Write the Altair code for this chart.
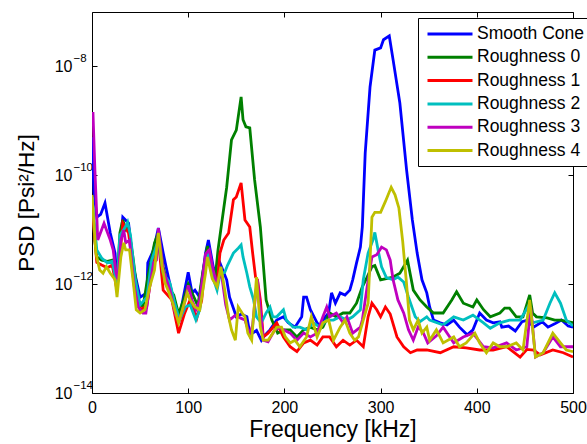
import math
import altair as alt
import pandas as pd

series_names = ["Smooth Cone", "Roughness 0", "Roughness 1", "Roughness 2", "Roughness 3", "Roughness 4"]
series_colors = ["#0000FF", "#008000", "#FF0000", "#00BFBF", "#BF00BF", "#BFBF00"]

# (frequency kHz, log10 PSD) pairs
smooth_cone = [(0,-9.3),(2,-10.3),(5,-10.77),(9,-10.72),(13.5,-10.51),(19,-11.06),(24,-11.43),(26,-11.98),(32,-10.77),(38,-10.88),
    (43,-11.68),(50,-12.24),(57,-12.16),(58,-11.61),(64,-11.37),(69,-10.97),(74,-11.43),(77,-11.68),(83,-12.16),(90,-12.66),
    (93,-12.42),(100,-11.78),(104,-12.16),(107,-12.11),(112,-12.24),(118,-11.43),(121,-11.19),(126,-11.68),(130,-11.87),(133,-11.61),
    (140,-11.92),(143,-12.24),(150,-12.60),(155,-12.55),(161,-12.60),(164,-12.90),(167,-12.90),(171,-12.85),(176,-13.03),(178,-12.97),
    (185,-12.84),(192,-12.66),(199,-12.60),(204,-12.71),(211,-12.79),(218,-12.60),(220,-12.24),(223,-12.24),(227,-12.47),(234,-12.71),
    (237,-12.79),(240,-12.66),(246,-12.53),(249,-12.16),(253,-12.35),(258,-12.16),(263,-12.20),(268,-12.11),(271,-11.92),(275,-11.61),
    (279,-11.32),(281,-10.95),(284,-9.59),(289,-8.38),(294,-7.70),(300,-7.66),(303,-7.51),(309,-7.44),(313,-7.88),(320,-8.67),
    (327,-9.90),(333,-10.82),(338,-11.43),(343,-11.92),(348,-12.16),(351,-12.42),(355,-12.66),(362,-12.71),(369,-12.75),(376,-12.66),
    (382,-12.79),(390,-12.93),(396,-12.84),(403,-12.53),(410,-12.66),(417,-12.71),(424,-12.69),(426,-12.79),(433,-12.77),(440,-12.86),
    (447,-12.69),(453,-12.66),(459,-12.79),(468,-12.69),(474,-12.79),(481,-12.73),(488,-12.66),(495,-12.77),(500,-12.79)]

roughness_0 = [(0,-10.45),(3,-11.2),(5,-11.50),(10,-11.56),(16,-11.58),(21,-11.56),(24,-11.68),(26,-11.98),(29,-11.06),(32,-10.82),
    (35,-11.0),(38,-10.95),(43,-11.56),(48,-12.29),(53,-12.42),(58,-11.87),(65,-11.24),(69,-11.06),(74,-11.68),(79,-12.05),
    (85,-12.2),(90,-12.55),(95,-12.3),(100,-12.0),(105,-12.2),(110,-12.4),(115,-11.8),(120,-11.3),(125,-11.7),(128,-11.9),
    (131,-11.37),(137,-10.60),(140,-10.22),(145,-9.35),(150,-9.17),(155,-8.56),(157,-8.98),(160,-9.11),(164,-9.13),(169,-10.08),
    (175,-10.95),(181,-12.29),(187,-12.66),(193,-12.90),(200,-12.84),(206,-12.84),(213,-12.97),(220,-12.84),(227,-12.79),(234,-12.84),
    (240,-12.79),(247,-12.53),(254,-12.60),(261,-12.53),(268,-12.53),(275,-12.35),(281,-12.05),(286,-11.87),(291,-11.68),(294,-11.66),
    (300,-11.92),(306,-11.90),(313,-11.87),(320,-11.80),(328,-11.56),(334,-12.11),(341,-12.29),(348,-12.42),(355,-12.53),(365,-12.53),
    (374,-12.29),(379,-12.14),(386,-12.35),(396,-12.42),(400,-12.29),(407,-12.47),(414,-12.60),(424,-12.53),(429,-12.44),(434,-12.44),
    (441,-12.60),(448,-12.60),(455,-12.2),(458,-12.53),(462,-12.60),(473,-12.62),(481,-12.66),(487,-12.66),(500,-12.71)]

roughness_1 = [(0,-10.55),(5,-11.60),(10,-11.65),(16,-11.70),(21,-11.65),(26,-12.11),(32,-10.88),(38,-11.06),(43,-11.74),(50,-12.47),
    (57,-12.40),(64,-11.56),(69,-11.19),(74,-12.11),(83,-12.29),(90,-12.90),(96,-12.55),(102,-12.29),(109,-12.62),(114,-12.3),
    (118,-11.56),(121,-11.37),(126,-11.83),(130,-12.02),(133,-11.43),(137,-11.19),(142,-11.06),(147,-10.45),(150,-10.40),(155,-10.14),
    (159,-10.82),(164,-10.95),(167,-11.43),(170,-11.87),(172,-11.92),(175,-12.29),(178,-12.97),(183,-12.90),(192,-12.71),(199,-12.97),
    (206,-13.15),(213,-13.24),(220,-13.08),(227,-13.03),(234,-13.12),(240,-12.97),(247,-12.97),(254,-13.15),(261,-13.03),(268,-13.12),
    (275,-13.03),(282,-13.15),(287,-12.60),(291,-12.35),(296,-12.47),(300,-12.60),(305,-12.42),(310,-12.55),(317,-12.97),(324,-13.15),
    (331,-13.26),(338,-13.21),(348,-13.21),(362,-13.26),(376,-13.15),(389,-13.17),(403,-13.21),(417,-13.21),(431,-13.15),(445,-13.34),
    (452,-13.2),(459,-13.21),(466,-13.30),(479,-13.21),(490,-13.26),(500,-13.34)]

roughness_2 = [(0,-10.40),(5,-11.37),(10,-11.52),(16,-11.61),(21,-11.58),(26,-12.02),(29,-11.10),(34,-10.97),(37,-10.86),(40,-11.10),
    (45,-11.92),(50,-12.38),(57,-12.24),(62,-11.56),(69,-11.19),(74,-11.80),(81,-11.98),(86,-12.35),(91,-12.66),(97,-12.42),
    (102,-12.38),(108,-12.66),(112,-12.47),(117,-11.65),(121,-11.45),(126,-11.9),(130,-12.11),(133,-11.83),(138,-11.78),(141,-11.65),
    (147,-11.43),(152,-11.34),(155,-11.28),(157,-11.50),(161,-11.80),(164,-12.05),(168,-12.29),(171,-12.60),(176,-12.71),(181,-12.53),
    (185,-12.42),(188,-12.60),(192,-12.60),(199,-12.47),(202,-12.66),(209,-12.79),(216,-12.79),(223,-12.84),(230,-12.71),(237,-12.79),
    (244,-12.66),(251,-12.66),(258,-12.60),(265,-12.66),(271,-12.60),(279,-12.47),(282,-11.92),(287,-11.43),(292,-11.19),(294,-11.05),
    (298,-11.43),(301,-11.68),(306,-11.88),(313,-11.92),(318,-11.87),(324,-11.96),(329,-12.24),(336,-12.60),(341,-12.69),(348,-12.60),
    (351,-12.66),(365,-12.75),(376,-12.60),(386,-12.66),(396,-12.57),(407,-12.71),(414,-12.81),(424,-12.71),(434,-12.66),(445,-12.66),
    (453,-12.42),(458,-12.71),(469,-12.66),(476,-12.35),(481,-12.16),(487,-12.35),(493,-12.66),(500,-12.77)]

roughness_3 = [(0,-9.0),(1,-8.84),(3,-9.9),(6,-11.19),(10,-11.0),(12.5,-10.88),(15,-11.0),(19,-11.19),(22,-11.37),(25,-11.80),
    (27,-11.92),(30,-11.19),(33,-11.01),(35,-11.24),(39,-11.19),(41,-11.56),(44,-12.05),(48,-12.42),(53,-12.53),(56,-12.53),
    (60,-12.05),(64,-11.61),(67,-11.56),(69,-10.97),(74,-11.74),(81,-12.11),(87,-12.57),(91,-12.66),(97,-12.29),(100,-12.02),
    (104,-12.29),(108,-12.47),(112,-12.29),(118,-11.45),(122,-11.37),(126,-11.74),(130,-12.02),(134,-11.74),(139,-12.38),(143,-12.66),
    (149,-12.57),(154,-12.62),(159,-12.66),(164,-12.93),(167,-12.75),(170,-12.20),(172,-11.92),(175,-12.47),(178,-13.03),(183,-13.06),
    (190,-12.84),(195,-12.80),(199,-12.84),(206,-12.90),(213,-13.03),(220,-12.90),(227,-12.97),(234,-12.90),(240,-12.60),(244,-12.42),
    (247,-12.60),(254,-12.53),(261,-12.71),(265,-12.60),(271,-12.90),(279,-12.79),(281,-12.66),(286,-12.05),(291,-11.50),(296,-11.46),
    (301,-11.32),(306,-11.37),(310,-11.56),(313,-11.92),(318,-12.29),(324,-12.53),(329,-12.84),(334,-13.03),(339,-12.79),(344,-12.88),
    (349,-13.08),(358,-12.95),(365,-12.79),(376,-13.08),(386,-12.97),(396,-12.90),(407,-13.15),(417,-13.17),(431,-13.08),(441,-13.21),
    (452,-13.15),(456,-12.42),(461,-13.34),(469,-13.26),(479,-12.97),(487,-13.15),(500,-13.15)]

roughness_4 = [(0,-10.36),(4,-11.43),(8,-11.74),(11.5,-11.80),(15,-11.68),(19,-11.80),(24,-11.92),(26,-12.24),(30,-11.50),(33,-11.24),
    (35,-11.37),(39,-11.37),(43,-11.98),(46,-12.47),(50,-12.53),(55,-12.47),(60,-12.05),(65,-11.74),(69,-11.06),(73,-11.68),
    (76,-11.98),(79,-12.11),(84,-12.35),(90,-12.71),(93,-12.53),(99,-12.16),(102,-12.29),(107,-12.42),(112,-12.47),(118,-11.80),
    (120,-11.50),(125,-11.90),(130,-12.05),(134,-11.68),(138,-12.11),(142,-12.60),(145,-12.84),(149,-13.03),(152,-12.42),(156,-12.53),
    (159,-12.60),(162,-12.90),(166,-13.03),(171,-11.87),(175,-12.79),(178,-13.03),(183,-13.03),(188,-12.90),(192,-12.79),(197,-12.79),
    (201,-12.97),(206,-13.08),(211,-13.03),(216,-13.15),(223,-12.97),(228,-12.60),(234,-12.97),(240,-12.71),(246,-12.66),(251,-13.03),
    (258,-12.79),(263,-12.66),(268,-12.90),(273,-13.03),(277,-12.97),(282,-12.66),(287,-12.35),(291,-10.77),(294,-10.68),(300,-10.68),
    (305,-10.48),(311,-10.22),(315,-10.36),(319,-10.60),(323,-11.22),(327,-12.0),(330,-12.66),(334,-12.84),(339,-12.66),(343,-12.90),
    (348,-12.79),(351,-13.03),(358,-12.84),(365,-13.08),(376,-12.97),(382,-13.15),(389,-13.08),(398,-12.90),(403,-13.08),(410,-13.26),
    (417,-13.08),(424,-13.15),(431,-13.15),(441,-13.08),(448,-13.21),(455,-12.29),(461,-13.34),(469,-13.26),(479,-12.90),(487,-13.08),
    (493,-13.21),(500,-13.24)]

x_ticks = [0, 100, 200, 300, 400, 500]
y_ticks = [1e-14, 1e-12, 1e-10, 1e-8]
y_tick_base = "10"
y_tick_exponents = ["\u221214", "\u221212", "\u221210", "\u22128"]

all_series = [smooth_cone, roughness_0, roughness_1, roughness_2, roughness_3, roughness_4]
rows = []
for idx, (name, pts) in enumerate(zip(series_names, all_series)):
    for f, lg in pts:
        rows.append({"series": name, "order": idx, "freq": f, "psd": 10 ** lg})
df = pd.DataFrame(rows)

# exponent label expression built from the tick lists
expr = "''"
for v, lab in reversed(list(zip(y_ticks, y_tick_exponents))):
    expr = f"(abs(log(datum.value)/LN10 - ({round(math.log10(v))})) < 0.1) ? '{lab}' : {expr}"

FONT = "Liberation Sans"

x_scale = alt.Scale(domain=[0, 500], nice=False, zero=False)
y_scale = alt.Scale(type="log", domain=[1e-14, 1e-7], nice=False)

lines = alt.Chart(df).mark_line(strokeWidth=2.8, clip=True).encode(
    x=alt.X("freq:Q", scale=x_scale,
            axis=alt.Axis(orient="bottom", values=x_ticks, title="Frequency [kHz]", offset=-5, tickSize=5,
                          domain=False, grid=False, labelFlush=False, labelOverlap=False,
                          labelFontSize=16, labelPadding=6, titleFontSize=23, titlePadding=3,
                          titleFontWeight="normal", labelColor="black", titleColor="black", tickColor="black")),
    y=alt.Y("psd:Q", scale=y_scale,
            axis=alt.Axis(orient="left", values=y_ticks, labelExpr=f"'{y_tick_base}'", title="PSD [Psi²/Hz]",
                          offset=-5, tickSize=5, domain=False, grid=False, labelOverlap=False,
                          labelFontSize=16, labelPadding=20, labelBaseline="middle",
                          titleFontSize=22.5, titlePadding=16, titleFontWeight="normal",
                          labelColor="black", titleColor="black", tickColor="black")),
    color=alt.Color("series:N", scale=alt.Scale(domain=series_names, range=series_colors),
                    legend=alt.Legend(title=None, orient="none", legendX=326, legendY=6,
                                      fillColor="white", strokeColor="black", padding=7,
                                      symbolType="M-3,0L3,0", symbolSize=225, symbolStrokeWidth=3,
                                      symbolOffset=16, labelOffset=18, rowPadding=5.3,
                                      labelFontSize=17.5, labelFont=FONT, labelColor="black",
                                      cornerRadius=0)),
    order=alt.Order("order:Q"),
)

frame = alt.Chart(df).mark_line(opacity=0).encode(
    x=alt.X("freq:Q", scale=x_scale,
            axis=alt.Axis(orient="top", values=x_ticks, labels=False, title=None, offset=-5, tickSize=5,
                          domain=False, grid=False, tickColor="black")),
    y=alt.Y("psd:Q", scale=y_scale,
            axis=alt.Axis(orient="right", values=y_ticks, labels=False, title=None, offset=-5, tickSize=5,
                          domain=False, grid=False, tickColor="black")),
    detail="series:N",
)

exponents = alt.Chart(df).mark_line(opacity=0).encode(
    x=alt.X("freq:Q", scale=x_scale, axis=None),
    y=alt.Y("psd:Q", scale=y_scale,
            axis=alt.Axis(orient="left", values=y_ticks, labelExpr=expr, title=None, ticks=False,
                          domain=False, grid=False, labelOverlap=False, labelFontSize=11.5,
                          labelAlign="left", labelBaseline="middle", labelPadding=19, labelOffset=-8,
                          labelColor="black", labelFont=FONT)),
    detail="series:N",
)

chart = alt.layer(lines, frame, exponents).resolve_axis(x="independent", y="independent").properties(
    width=481, height=381,
    autosize=alt.AutoSizeParams(type="none"),
    padding={"left": 92, "top": 12, "right": 14, "bottom": 51},
    background="white",
).configure_view(stroke="black", strokeWidth=1).configure_axis(
    labelFont=FONT, titleFont=FONT
)

chart.save("out.html", embed_options={"renderer": "svg", "actions": False})
